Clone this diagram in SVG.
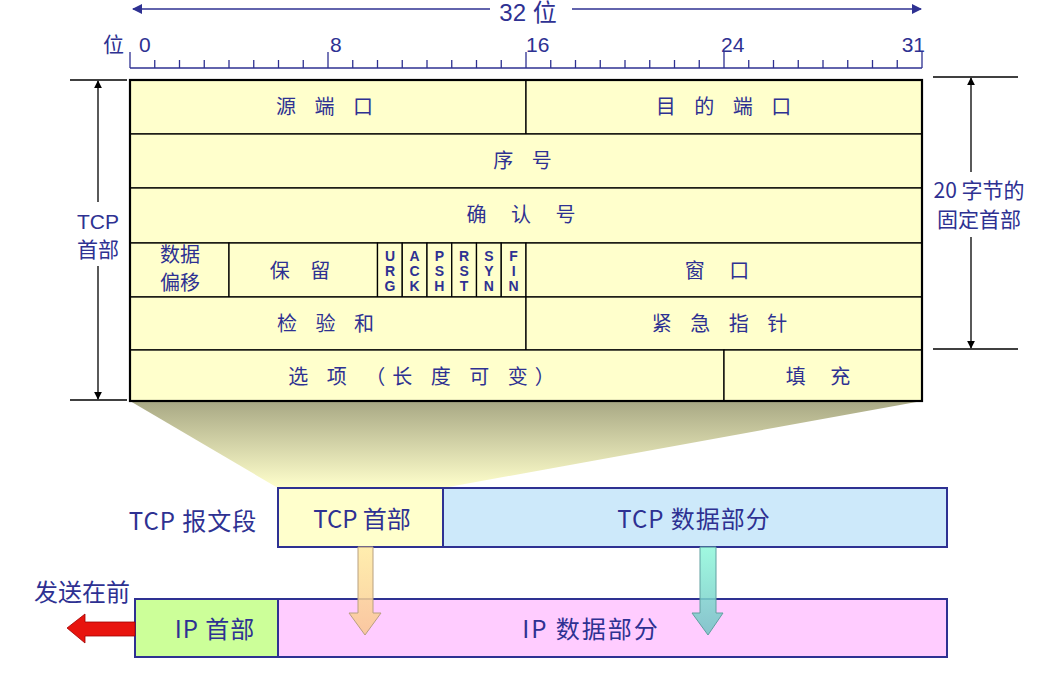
<svg xmlns="http://www.w3.org/2000/svg" width="1047" height="674" viewBox="0 0 1047 674">
<style>
.t{font-family:"Liberation Sans","Noto Sans CJK SC",sans-serif;fill:#2e3192}
.c{font-family:"Noto Sans CJK SC","Liberation Sans",sans-serif;fill:#2e3192}
.cell{fill:#ffffcc;stroke:#000;stroke-width:1.3}
.f{font-family:"Liberation Sans",sans-serif;font-weight:bold;font-size:14px;fill:#2e3192;text-anchor:middle}
.dim{stroke:#000;stroke-width:1.3;fill:none}
.box{stroke:#2e3192;stroke-width:2}
</style>
<defs>
<marker id="ab" viewBox="0 0 10 10" refX="9" refY="5" markerWidth="8" markerHeight="16" orient="auto-start-reverse" markerUnits="userSpaceOnUse"><path d="M0,0 L10,5 L0,10 z" fill="#000"/></marker>
<marker id="abl" viewBox="0 0 10 10" refX="9" refY="5" markerWidth="14" markerHeight="10" orient="auto-start-reverse" markerUnits="userSpaceOnUse"><path d="M0,0 L10,5 L0,10 z" fill="#2e3192"/></marker>
<linearGradient id="sh" x1="0" y1="0" x2="0" y2="1"><stop offset="0" stop-color="#a8a884"/><stop offset="1" stop-color="#ffffcc"/></linearGradient>
<linearGradient id="og" x1="0" y1="0" x2="0" y2="1"><stop offset="0" stop-color="#ffeaa0"/><stop offset="1" stop-color="#f9c690"/></linearGradient>
<linearGradient id="tg" x1="0" y1="0" x2="0" y2="1"><stop offset="0" stop-color="#8ff7da"/><stop offset="1" stop-color="#72c2c4"/></linearGradient>
</defs>

<!-- top 32 bit arrow -->
<g id="title32">
<line x1="490" y1="9" x2="133" y2="9" stroke="#2e3192" stroke-width="1.5" marker-end="url(#abl)"/>
<line x1="572" y1="9" x2="921" y2="9" stroke="#2e3192" stroke-width="1.5" marker-end="url(#abl)"/>
<text class="t" x="528" y="21" font-size="24" text-anchor="middle">32 位</text>
</g>

<!-- bit scale -->
<g id="scale" stroke="#2e3192" stroke-width="1.3">
<line x1="130" y1="68" x2="922" y2="68"/>
<path d="M130,52V68 M154.75,60V68 M179.5,60V68 M204.25,60V68 M229,60V68 M253.75,60V68 M278.5,60V68 M303.25,60V68 M328,52V68 M352.75,60V68 M377.5,60V68 M402.25,60V68 M427,60V68 M451.75,60V68 M476.5,60V68 M501.25,60V68 M526,52V68 M550.75,60V68 M575.5,60V68 M600.25,60V68 M625,60V68 M649.75,60V68 M674.5,60V68 M699.25,60V68 M724,52V68 M748.75,60V68 M773.5,60V68 M798.25,60V68 M823,60V68 M847.75,60V68 M872.5,60V68 M897.25,60V68 M922,52V68"/>
</g>
<g id="scale-labels" font-size="21">
<text class="c" x="103" y="52">位</text>
<text class="t" x="139" y="52">0</text>
<text class="t" x="330" y="52">8</text>
<text class="t" x="526" y="52">16</text>
<text class="t" x="721" y="52">24</text>
<text class="t" x="925" y="52" text-anchor="end">31</text>
</g>

<!-- shadow -->
<polygon id="shadow" points="130,401 922,401 443,488 278,488" fill="url(#sh)"/>

<!-- header table -->
<g id="header" font-size="20">
<g id="src-port"><rect class="cell" x="130" y="80" width="396" height="54"/><text class="c" x="328" y="114" text-anchor="middle" letter-spacing="7">源 端 口</text></g>
<g id="dst-port"><rect class="cell" x="526" y="80" width="396" height="54"/><text class="c" x="727" y="114" text-anchor="middle" letter-spacing="7">目 的 端 口</text></g>
<g id="seq"><rect class="cell" x="130" y="134" width="792" height="54"/><text class="c" x="526" y="168" text-anchor="middle" letter-spacing="7">序 号</text></g>
<g id="ack"><rect class="cell" x="130" y="188" width="792" height="55"/><text class="c" x="526" y="222" text-anchor="middle" letter-spacing="10">确 认 号</text></g>
<g id="offset"><rect class="cell" x="130" y="243" width="99" height="54"/><text class="c" x="180" y="262" text-anchor="middle">数据</text><text class="c" x="180" y="290" text-anchor="middle">偏移</text></g>
<g id="reserved"><rect class="cell" x="229" y="243" width="148.5" height="54"/><text class="c" x="304" y="278" text-anchor="middle" letter-spacing="8">保 留</text></g>
<g id="flags">
<rect class="cell" x="377.5" y="243" width="24.75" height="54"/>
<rect class="cell" x="402.25" y="243" width="24.75" height="54"/>
<rect class="cell" x="427" y="243" width="24.75" height="54"/>
<rect class="cell" x="451.75" y="243" width="24.75" height="54"/>
<rect class="cell" x="476.5" y="243" width="24.75" height="54"/>
<rect class="cell" x="501.25" y="243" width="24.75" height="54"/>
<text class="f" x="390" y="261">U<tspan x="390" dy="15">R</tspan><tspan x="390" dy="15">G</tspan></text>
<text class="f" x="414.6" y="261">A<tspan x="414.6" dy="15">C</tspan><tspan x="414.6" dy="15">K</tspan></text>
<text class="f" x="439.4" y="261">P<tspan x="439.4" dy="15">S</tspan><tspan x="439.4" dy="15">H</tspan></text>
<text class="f" x="464.1" y="261">R<tspan x="464.1" dy="15">S</tspan><tspan x="464.1" dy="15">T</tspan></text>
<text class="f" x="488.9" y="261">S<tspan x="488.9" dy="15">Y</tspan><tspan x="488.9" dy="15">N</tspan></text>
<text class="f" x="513.6" y="261">F<tspan x="513.6" dy="15">I</tspan><tspan x="513.6" dy="15">N</tspan></text>
</g>
<g id="window"><rect class="cell" x="526" y="243" width="396" height="54"/><text class="c" x="722" y="278" text-anchor="middle" letter-spacing="10">窗 口</text></g>
<g id="checksum"><rect class="cell" x="130" y="297" width="396" height="53"/><text class="c" x="329" y="331" text-anchor="middle" letter-spacing="7">检 验 和</text></g>
<g id="urgent"><rect class="cell" x="526" y="297" width="396" height="53"/><text class="c" x="723" y="331" text-anchor="middle" letter-spacing="7">紧 急 指 针</text></g>
<g id="options"><rect class="cell" x="130" y="350" width="594" height="51"/><text class="c" x="425" y="384" text-anchor="middle" letter-spacing="7">选 项 （长 度 可 变）</text></g>
<g id="padding"><rect class="cell" x="724" y="350" width="198" height="51"/><text class="c" x="823" y="384" text-anchor="middle" letter-spacing="10">填 充</text></g>
<rect x="130" y="80" width="792" height="321" fill="none" stroke="#000" stroke-width="2.2"/>
</g>

<!-- dimension connectors -->
<g id="connectors">
<line class="dim" x1="70" y1="80" x2="127" y2="80"/>
<line class="dim" x1="70" y1="400" x2="127" y2="400"/>
<line class="dim" x1="98" y1="202" x2="98" y2="81" marker-end="url(#ab)"/>
<line class="dim" x1="98" y1="266" x2="98" y2="399" marker-end="url(#ab)"/>
<line class="dim" x1="933" y1="77" x2="1018" y2="77"/>
<line class="dim" x1="933" y1="349" x2="1018" y2="349"/>
<line class="dim" x1="971" y1="172" x2="971" y2="78" marker-end="url(#ab)"/>
<line class="dim" x1="971" y1="237" x2="971" y2="348" marker-end="url(#ab)"/>
</g>
<g id="tcp-header-label" font-size="21">
<text class="t" x="98" y="229" text-anchor="middle">TCP</text>
<text class="c" x="98" y="257" text-anchor="middle">首部</text>
</g>
<g id="fixed-label" font-size="21">
<text class="c" x="979" y="198" text-anchor="middle">20 字节的</text>
<text class="c" x="979" y="227" text-anchor="middle">固定首部</text>
</g>

<!-- TCP segment -->
<g id="tcp-segment" font-size="24">
<text class="c" x="193" y="530" text-anchor="middle" letter-spacing="1">TCP 报文段</text>
<rect class="box" x="278" y="488" width="165" height="59" fill="#ffffcc"/>
<text class="c" x="362" y="528" text-anchor="middle">TCP 首部</text>
<rect class="box" x="443" y="488" width="504" height="59" fill="#cde9fa"/>
<text class="c" x="694" y="528" text-anchor="middle" letter-spacing="1">TCP 数据部分</text>
</g>

<!-- IP datagram -->
<g id="ip-datagram" font-size="24">
<text class="c" x="82" y="601" text-anchor="middle">发送在前</text>
<rect class="box" x="135" y="599" width="143" height="58" fill="#ccff99"/>
<text class="c" x="215" y="638" text-anchor="middle" letter-spacing="1">IP 首部</text>
<rect class="box" x="278" y="599" width="669" height="58" fill="#ffccff"/>
<text class="c" x="591" y="638" text-anchor="middle" letter-spacing="2">IP 数据部分</text>
</g>

<g id="arrows">
<polygon points="358,547 373,547 373,613 381,613 365,635 349,613 358,613" fill="url(#og)" fill-opacity="0.85" stroke="#b8a080" stroke-width="1"/>
<polygon points="700,547 716,547 716,613 723,613 708,635 692,613 700,613" fill="url(#tg)" fill-opacity="0.85" stroke="#60a0a0" stroke-width="1"/>
<polygon points="135,622 85,622 85,614 67,628 85,643 85,636 135,636" fill="#e8140e" stroke="#a00000" stroke-width="0.8"/>
</g>
</svg>
